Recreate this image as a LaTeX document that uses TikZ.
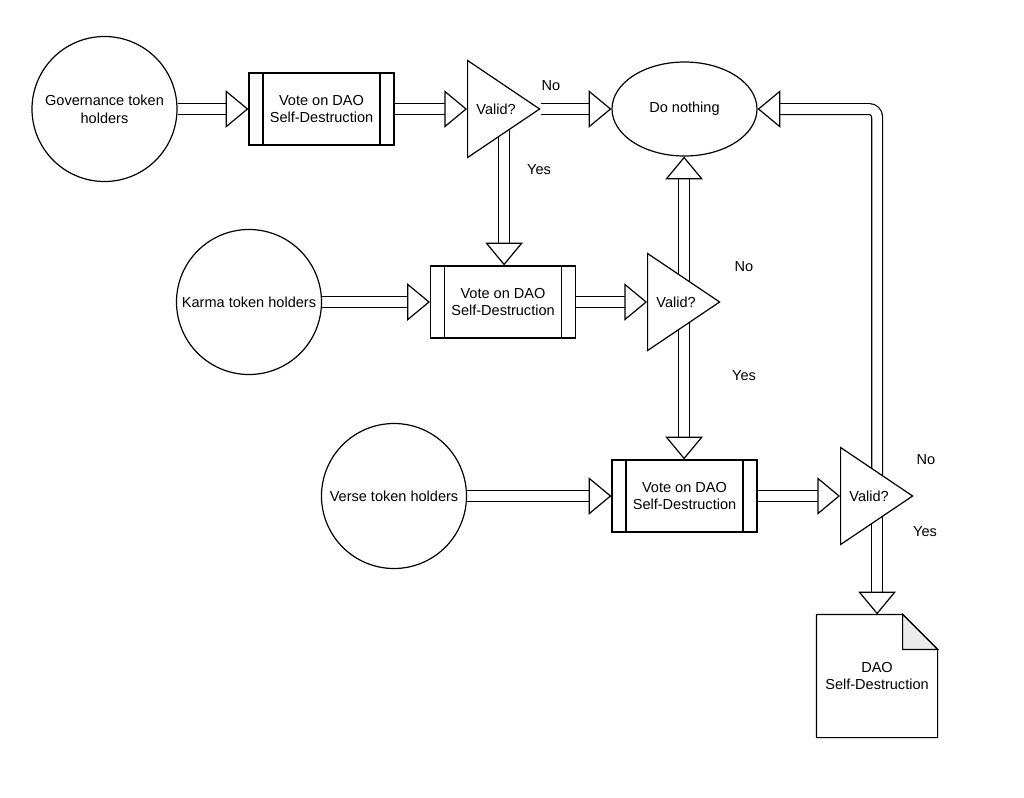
\documentclass[tikz,border=0pt]{standalone}
\usepackage{fontspec}
\setmainfont{Liberation Sans}
\usepackage{tikz}
\usetikzlibrary{shapes.geometric, arrows.meta, positioning, backgrounds, calc}
\definecolor{ink}{HTML}{000000}
\definecolor{fold}{HTML}{EBEBEB}
\tikzset{
  base/.style      ={draw=ink, line width=0.9pt, fill=white, align=center,
                     font=\fontsize{10.9pt}{13.3pt}\selectfont, inner sep=2pt},
  holder/.style    ={base, circle, minimum size=108.75pt},
  vote/.style      ={base, rectangle, minimum width=108.75pt, minimum height=54pt,
                     path picture={
                       \draw[line width=0.9pt] ([xshift=10.5pt]path picture bounding box.north west)
                         -- ([xshift=10.5pt]path picture bounding box.south west);
                       \draw[line width=0.9pt] ([xshift=-10.5pt]path picture bounding box.north east)
                         -- ([xshift=-10.5pt]path picture bounding box.south east);}},
  check/.style     ={base, isosceles triangle, isosceles triangle stretches,
                     minimum width=72.75pt, minimum height=54pt, inner sep=0pt,
                     anchor=lower side},
  idle/.style      ={base, ellipse, minimum width=108.75pt, minimum height=70.5pt},
  docnode/.style   ={base, draw=none, fill=none, minimum width=90pt, minimum height=91.5pt},
  blockarrow/.style={draw=ink, line width=0.9pt, double=white, double distance=7.2pt,
                     -{Triangle[length=17pt, width=28pt, fill=white, line width=0.9pt 0 0]}},
  answer/.style    ={font=\fontsize{10.9pt}{13.3pt}\selectfont, inner sep=0pt}
}
\begin{document}
\begin{tikzpicture}[x=0.75pt, y=-0.75pt]
  % voters
  \node[holder] (h1) at (104.5,109) {Governance token\\holders};
  \node[holder] (h2) at (249,302)   {Karma token holders};
  \node[holder] (h3) at (394,496)   {Verse token holders};

  % votes
  \node[vote] (v1) at (321.5,109) {Vote on DAO\\Self-Destruction};
  \node[vote] (v2) at (503,302)   {Vote on DAO\\Self-Destruction};
  \node[vote] (v3) at (684.5,496) {Vote on DAO\\Self-Destruction};

  % checks
  \node[check] (t1) at (467,109) {Valid?};
  \node[check] (t2) at (647,302) {Valid?};
  \node[check] (t3) at (840,496) {Valid?};

  % outcomes
  \node[idle] (dn) at (684.5,109) {Do nothing};
  \node[docnode] (doc) at (877,676) {DAO\\Self-Destruction};

  \node[answer] (no1)  at (551,86)  {No};
  \node[answer] (yes1) at (539,170) {Yes};
  \node[answer] (no2)  at (744,267) {No};
  \node[answer] (yes2) at (744,376) {Yes};
  \node[answer] (no3)  at (926,460) {No};
  \node[answer] (yes3) at (925,532) {Yes};

  \begin{scope}[on background layer]
    \fill[white] (0,0) rectangle (1024,797);
    \draw[blockarrow] (h1.east) -- (v1.west);
    \draw[blockarrow] (v1.east) -- (t1.lower side);
    \draw[blockarrow] (t1.apex) -- (dn.west);
    \draw[blockarrow] ([yshift=5pt]t1.right side) -- (t1.right side |- v2.north);
    \draw[blockarrow] (h2.east) -- (v2.west);
    \draw[blockarrow] (v2.east) -- (t2.lower side);
    \draw[blockarrow] ([yshift=-5pt]t2.left side) -- (t2.left side |- dn.south);
    \draw[blockarrow] ([yshift=5pt]t2.right side) -- (t2.right side |- v3.north);
    \draw[blockarrow] (h3.east) -- (v3.west);
    \draw[blockarrow] (v3.east) -- (t3.lower side);
    \draw[blockarrow, rounded corners=6pt] ([yshift=-5pt]t3.left side) |- (dn.east);
    \draw[blockarrow] ([yshift=5pt]t3.right side) -- (t3.right side |- doc.north);
    % document outline with folded corner
    \draw[line width=0.9pt, fill=white] (doc.north west) -- ([xshift=-26.25pt]doc.north east)
      -- ([yshift=-26.25pt]doc.north east) -- (doc.south east) -- (doc.south west) -- cycle;
    \draw[line width=0.9pt, fill=fold] ([xshift=-26.25pt]doc.north east)
      -- ([xshift=-26.25pt, yshift=-26.25pt]doc.north east) -- ([yshift=-26.25pt]doc.north east) -- cycle;
  \end{scope}
\end{tikzpicture}
\end{document}
